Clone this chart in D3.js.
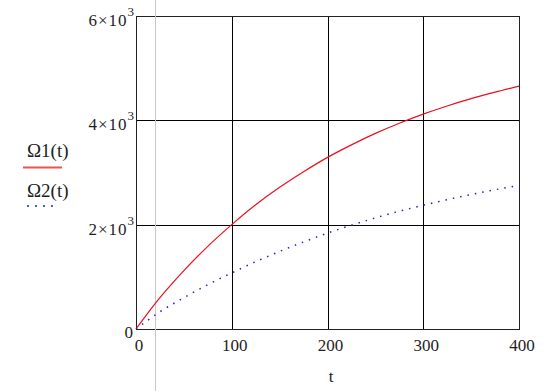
<!DOCTYPE html>
<html>
<head>
<meta charset="utf-8">
<script src="https://cdn.jsdelivr.net/npm/d3@7/dist/d3.min.js"></script>
<style>
  body { margin: 0; }
  #chart text, #chart tspan { font-family: 'Liberation Serif', Tinos, 'Times New Roman' !important; }
</style>
</head>
<body>
<svg id="chart" width="554" height="391"></svg>
<script>
// ---- data ----
const tValues = [0, 25, 50, 75, 100, 125, 150, 175, 200, 225, 250, 275, 300, 325, 350, 375, 400];
const omega1 = [0, 600, 1120, 1585, 2000, 2380, 2715, 3015, 3290, 3530, 3750, 3945, 4120, 4275, 4415, 4540, 4655];
const omega2 = [0, 330, 600, 850, 1075, 1290, 1487, 1668, 1838, 1990, 2130, 2258, 2372, 2480, 2578, 2670, 2748];
const xTicks = [0, 100, 200, 300, 400];
const yTicks = [0, 2000, 4000, 6000];
const yTickMantissa = ["0", "2", "4", "6"];
const seriesNames = ["\u03A91(t)", "\u03A92(t)"];
const xTitle = "t";
const cursorT = 20;

// ---- layout ----
const svg = d3.select("#chart");
const L = 136, R = 519, T = 16, B = 329;
const x = d3.scaleLinear().domain([0, 400]).range([L, R]);
const y = d3.scaleLinear().domain([0, 6000]).range([B, T]);
const txtFill = "#1e1e1e";
const FF = "Liberation Serif";

// grid
const g = svg.append("g");
g.selectAll("line.vg").data(xTicks.slice(1, -1)).join("line")
  .attr("x1", d => Math.round(x(d)) + 0.5).attr("x2", d => Math.round(x(d)) + 0.5)
  .attr("y1", T).attr("y2", B).attr("stroke", "#000").attr("stroke-width", 1);
g.selectAll("line.hg").data(yTicks.slice(1, -1)).join("line")
  .attr("y1", d => Math.round(y(d)) + 0.5).attr("y2", d => Math.round(y(d)) + 0.5)
  .attr("x1", L).attr("x2", R).attr("stroke", "#000").attr("stroke-width", 1);
// frame
g.append("rect").attr("x", L + 0.5).attr("y", T + 0.5).attr("width", R - L).attr("height", B - T)
  .attr("fill", "none").attr("stroke", "#222").attr("stroke-width", 1);

// cursor line (light grey, full height)
svg.append("line").attr("x1", Math.round(x(cursorT)) + 0.5).attr("x2", Math.round(x(cursorT)) + 0.5)
  .attr("y1", 0).attr("y2", 391).attr("stroke", "#c8c8c8").attr("stroke-width", 1);

// series
const line = d3.line().x((d, i) => x(tValues[i])).y(d => y(d)).curve(d3.curveMonotoneX);
svg.append("path").datum(omega1).attr("d", line)
  .attr("fill", "none").attr("stroke", "#e8101e").attr("stroke-width", 1.2);
svg.append("path").datum(omega2).attr("d", line)
  .attr("fill", "none").attr("stroke", "#2020d0").attr("stroke-width", 1.5)
  .attr("stroke-dasharray", "1.5,6");

// x tick labels
xTicks.forEach(d => {
  svg.append("text").attr("font-family", FF)
    .attr("x", x(d) + 3).attr("y", 351).attr("fill", txtFill)
    .attr("text-anchor", "middle").attr("font-size", 17).text(String(d));
});
svg.append("text").attr("font-family", FF).attr("x", 331).attr("y", 382)
  .attr("text-anchor", "middle").attr("fill", txtFill)
  .attr("font-size", 17).text(xTitle);

// y tick labels
yTicks.forEach((v, i) => {
  const yy = y(v);
  if (v === 0) {
    svg.append("text").attr("font-family", FF).attr("x", 133).attr("y", yy + 9)
      .attr("text-anchor", "end").attr("fill", txtFill)
      .attr("font-size", 17).text("0");
  } else {
    const t = svg.append("text").attr("font-family", FF).attr("x", 134).attr("y", yy + 10)
      .attr("text-anchor", "end").attr("fill", txtFill).attr("font-size", 17);
    t.append("tspan").attr("letter-spacing", 1).text(yTickMantissa[i] + "\u00D710");
    t.append("tspan").attr("font-size", 13).attr("dy", -10).text("3");
  }
});

// legend
const leg = [
  { name: seriesNames[0], ty: 157, ly: 167.5, x1: 23, x2: 62, color: "#e8564f", dash: null, w: 2 },
  { name: seriesNames[1], ty: 197, ly: 206, x1: 27, x2: 56, color: "#2020d0", dash: "2,6", w: 1.5 }
];
leg.forEach(l => {
  svg.append("text").attr("font-family", FF).attr("x", 27).attr("y", l.ty)
    .attr("font-size", 19).attr("fill", txtFill).text(l.name);
  const ln = svg.append("line").attr("x1", l.x1).attr("x2", l.x2).attr("y1", l.ly).attr("y2", l.ly)
    .attr("stroke", l.color).attr("stroke-width", l.w);
  if (l.dash) ln.attr("stroke-dasharray", l.dash);
});
</script>
</body>
</html>
